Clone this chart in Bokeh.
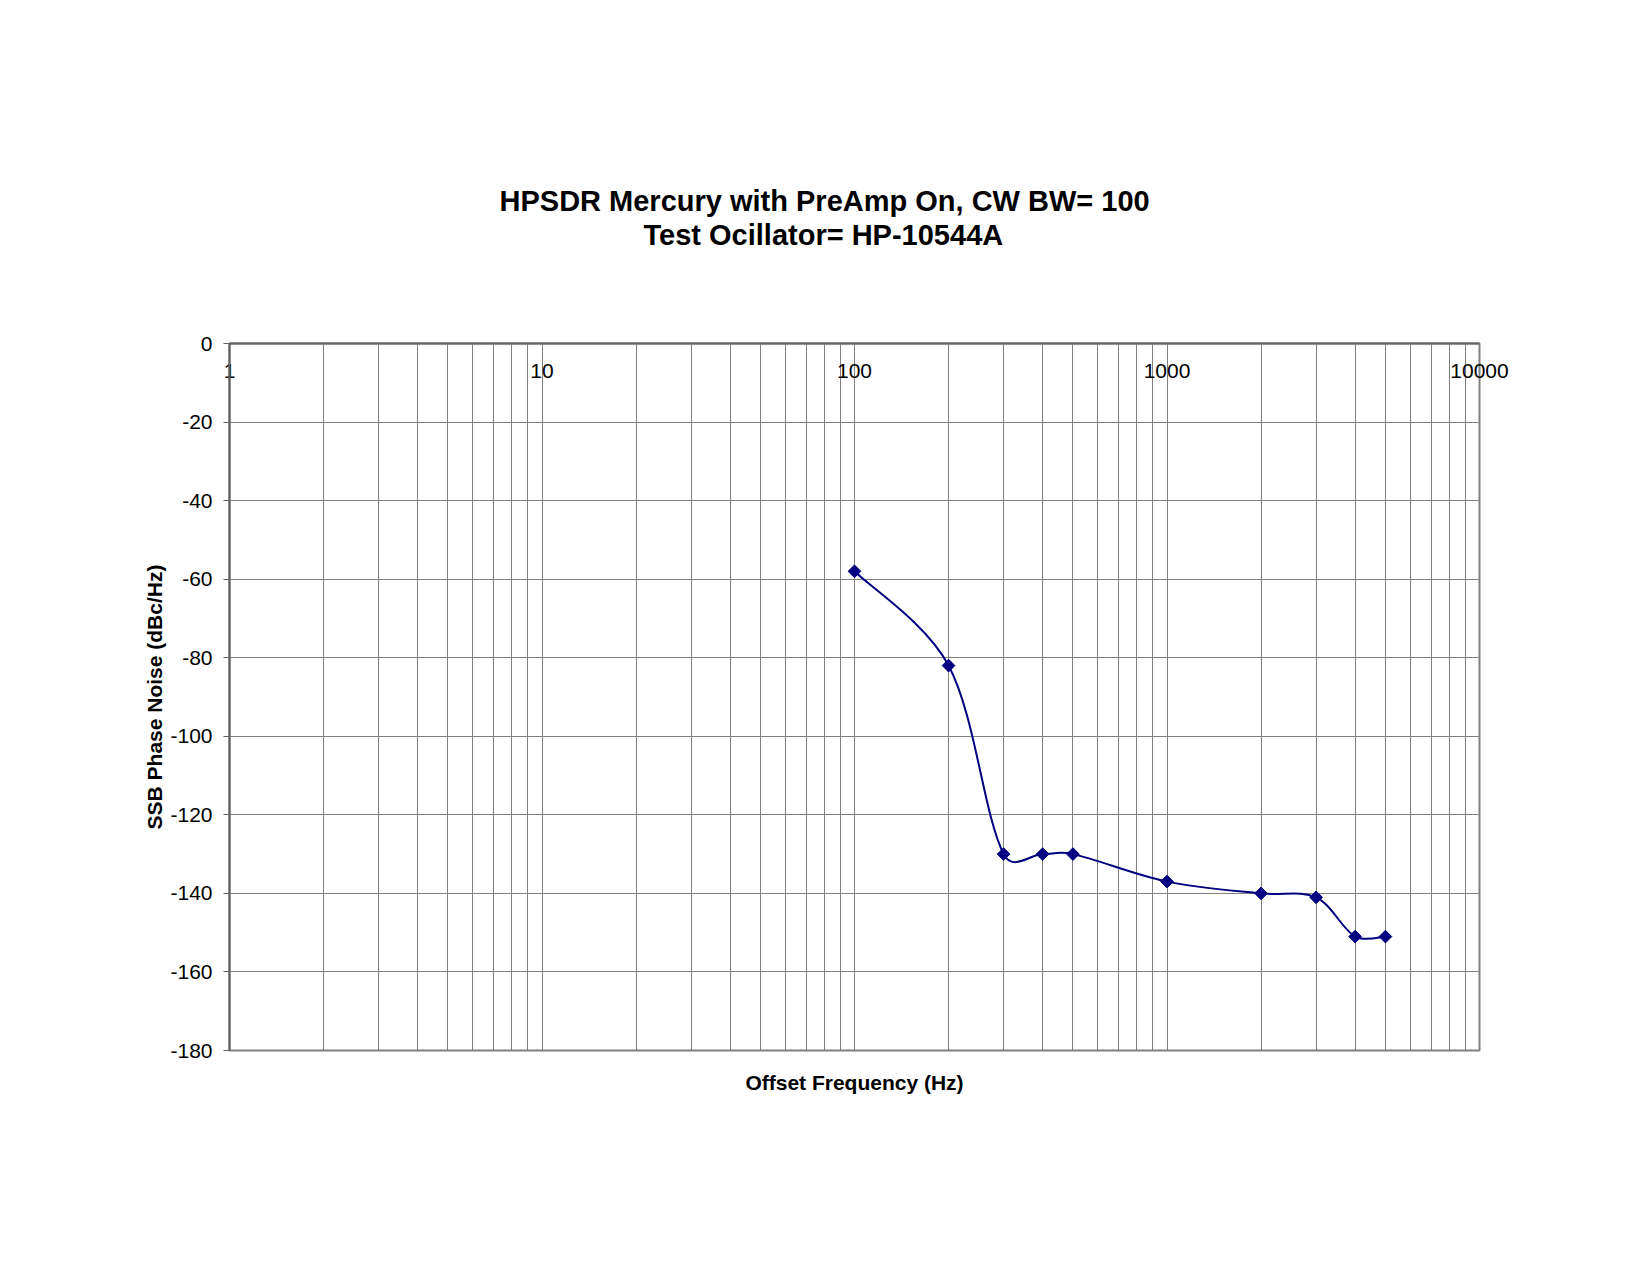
import math
from bokeh.plotting import figure
from bokeh.models import FixedTicker, ColumnDataSource, LogAxis, Title
from bokeh.embed import file_html
from bokeh.resources import INLINE

# ---- data ----
freq_hz = [100, 200, 300, 400, 500, 1000, 2000, 3000, 4000, 5000]
noise_dbc = [-58, -82, -130, -130, -130, -137, -140, -141, -151, -151]

x_major = [1, 10, 100, 1000, 10000]
x_major_labels = ["1", "10", "100", "1000", "10000"]
x_minor = [m * d for d in [1, 10, 100, 1000] for m in range(2, 10)]
y_ticks = [0, -20, -40, -60, -80, -100, -120, -140, -160, -180]

title_line1 = "HPSDR Mercury with PreAmp On, CW BW= 100"
title_line2 = "Test Ocillator= HP-10544A"
x_label = "Offset Frequency (Hz)"
y_label = "SSB Phase Noise (dBc/Hz)"

FONT = "Liberation Sans"
NAVY = "#000080"
GRID = "#808080"
AXIS = "#606060"
FW, FH = 1250, 707

p = figure(
    x_axis_type="log", x_range=(1, 10000), y_range=(-180, 0),
    frame_width=FW, frame_height=FH,
    min_border_left=229, min_border_right=164,
    min_border_top=343, min_border_bottom=209,
    output_backend="svg", toolbar_location=None,
    background_fill_color="white", border_fill_color="white",
)

p.outline_line_color = GRID
p.outline_line_width = 2

# x grid (major + minor decades)
xg = p.xgrid[0]
xg.ticker = FixedTicker(ticks=x_major, minor_ticks=x_minor)
xg.grid_line_color = GRID
xg.grid_line_width = 1
xg.minor_grid_line_color = GRID
xg.minor_grid_line_width = 1

# bottom axis: only carries the axis title
xa = p.xaxis[0]
xa.ticker = FixedTicker(ticks=[], minor_ticks=[])
xa.axis_line_color = None
xa.major_tick_out = 0
xa.major_tick_in = 0
xa.minor_tick_out = 0
xa.minor_tick_in = 0
xa.axis_label = x_label
xa.axis_label_text_font = FONT
xa.axis_label_text_font_size = "21px"
xa.axis_label_text_font_style = "bold"
xa.axis_label_text_color = "black"
xa.axis_label_standoff = 20

# top axis at y = 0: its labels hang down inside the plot area
top = LogAxis(ticker=FixedTicker(ticks=x_major, minor_ticks=[]),
              major_label_overrides=dict(zip(x_major, x_major_labels)))
top.axis_line_color = AXIS
top.axis_line_width = 2
top.major_tick_out = 0
top.major_tick_in = 0
top.minor_tick_out = 0
top.minor_tick_in = 0
top.major_label_standoff = -34
top.major_label_text_font = FONT
top.major_label_text_font_size = "21px"
top.major_label_text_color = "black"
# invisible spacer label pushes the title block up to its place
top.axis_label = " "
top.axis_label_text_font_size = "10px"
top.axis_label_standoff = 96
p.add_layout(top, "above")

# y axis
ya = p.yaxis[0]
ya.ticker = FixedTicker(ticks=y_ticks)
ya.major_label_overrides = {t: str(t) for t in y_ticks}
ya.axis_line_color = AXIS
ya.axis_line_width = 2
ya.major_tick_out = 6
ya.major_tick_in = 0
ya.major_tick_line_color = AXIS
ya.minor_tick_line_color = None
ya.major_label_standoff = 11
ya.major_label_text_font = FONT
ya.major_label_text_font_size = "21px"
ya.major_label_text_color = "black"
ya.axis_label = y_label
ya.axis_label_text_font = FONT
ya.axis_label_text_font_size = "21px"
ya.axis_label_text_font_style = "bold"
ya.axis_label_text_color = "black"
ya.axis_label_standoff = 1

yg = p.ygrid[0]
yg.ticker = FixedTicker(ticks=y_ticks)
yg.grid_line_color = GRID
yg.grid_line_width = 1

# two-line title (left offsets centre each line on the chart area)
for txt, off in [(title_line2, 414), (title_line1, 270)]:
    p.add_layout(Title(text=txt, align="left", offset=off, standoff=0,
                       text_font=FONT, text_font_size="29px", text_font_style="bold",
                       text_color="black"), "above")

# smoothed line: cubic Beziers through the points, tangents computed in screen space
sx = [math.log10(f) * FW / 4 for f in freq_hz]
sy = [v * FH / 180 for v in noise_dbc]
n = len(sx)

def dist(a, b):
    return math.hypot(sx[a] - sx[b], sy[a] - sy[b])

seg = dict(x0=[], y0=[], x1=[], y1=[], cx0=[], cy0=[], cx1=[], cy1=[])
for i in range(n - 1):
    i0 = max(i - 1, 0)
    i3 = min(i + 2, n - 1)
    d12 = dist(i, i + 1)
    d01 = dist(i0, i) if i0 != i else d12
    d23 = dist(i + 1, i3) if i3 != i + 1 else d12
    f0 = math.sqrt(2 * d12 / (d01 + d12)) / 6.0
    f1 = math.sqrt(2 * d12 / (d12 + d23)) / 6.0
    c0x = sx[i] + (sx[i + 1] - sx[i0]) * f0
    c0y = sy[i] + (sy[i + 1] - sy[i0]) * f0
    c1x = sx[i + 1] - (sx[i3] - sx[i]) * f1
    c1y = sy[i + 1] - (sy[i3] - sy[i]) * f1
    seg["x0"].append(freq_hz[i]); seg["y0"].append(noise_dbc[i])
    seg["x1"].append(freq_hz[i + 1]); seg["y1"].append(noise_dbc[i + 1])
    seg["cx0"].append(10 ** (c0x * 4 / FW)); seg["cy0"].append(c0y * 180 / FH)
    seg["cx1"].append(10 ** (c1x * 4 / FW)); seg["cy1"].append(c1y * 180 / FH)
p.bezier(x0="x0", y0="y0", x1="x1", y1="y1", cx0="cx0", cy0="cy0",
         cx1="cx1", cy1="cy1", source=ColumnDataSource(seg),
         line_color=NAVY, line_width=2)

p.scatter(x=freq_hz, y=noise_dbc, marker="square", size=9, angle=math.pi / 4,
          fill_color=NAVY, line_color=NAVY)

open("out.html", "w").write(file_html(p, INLINE))
